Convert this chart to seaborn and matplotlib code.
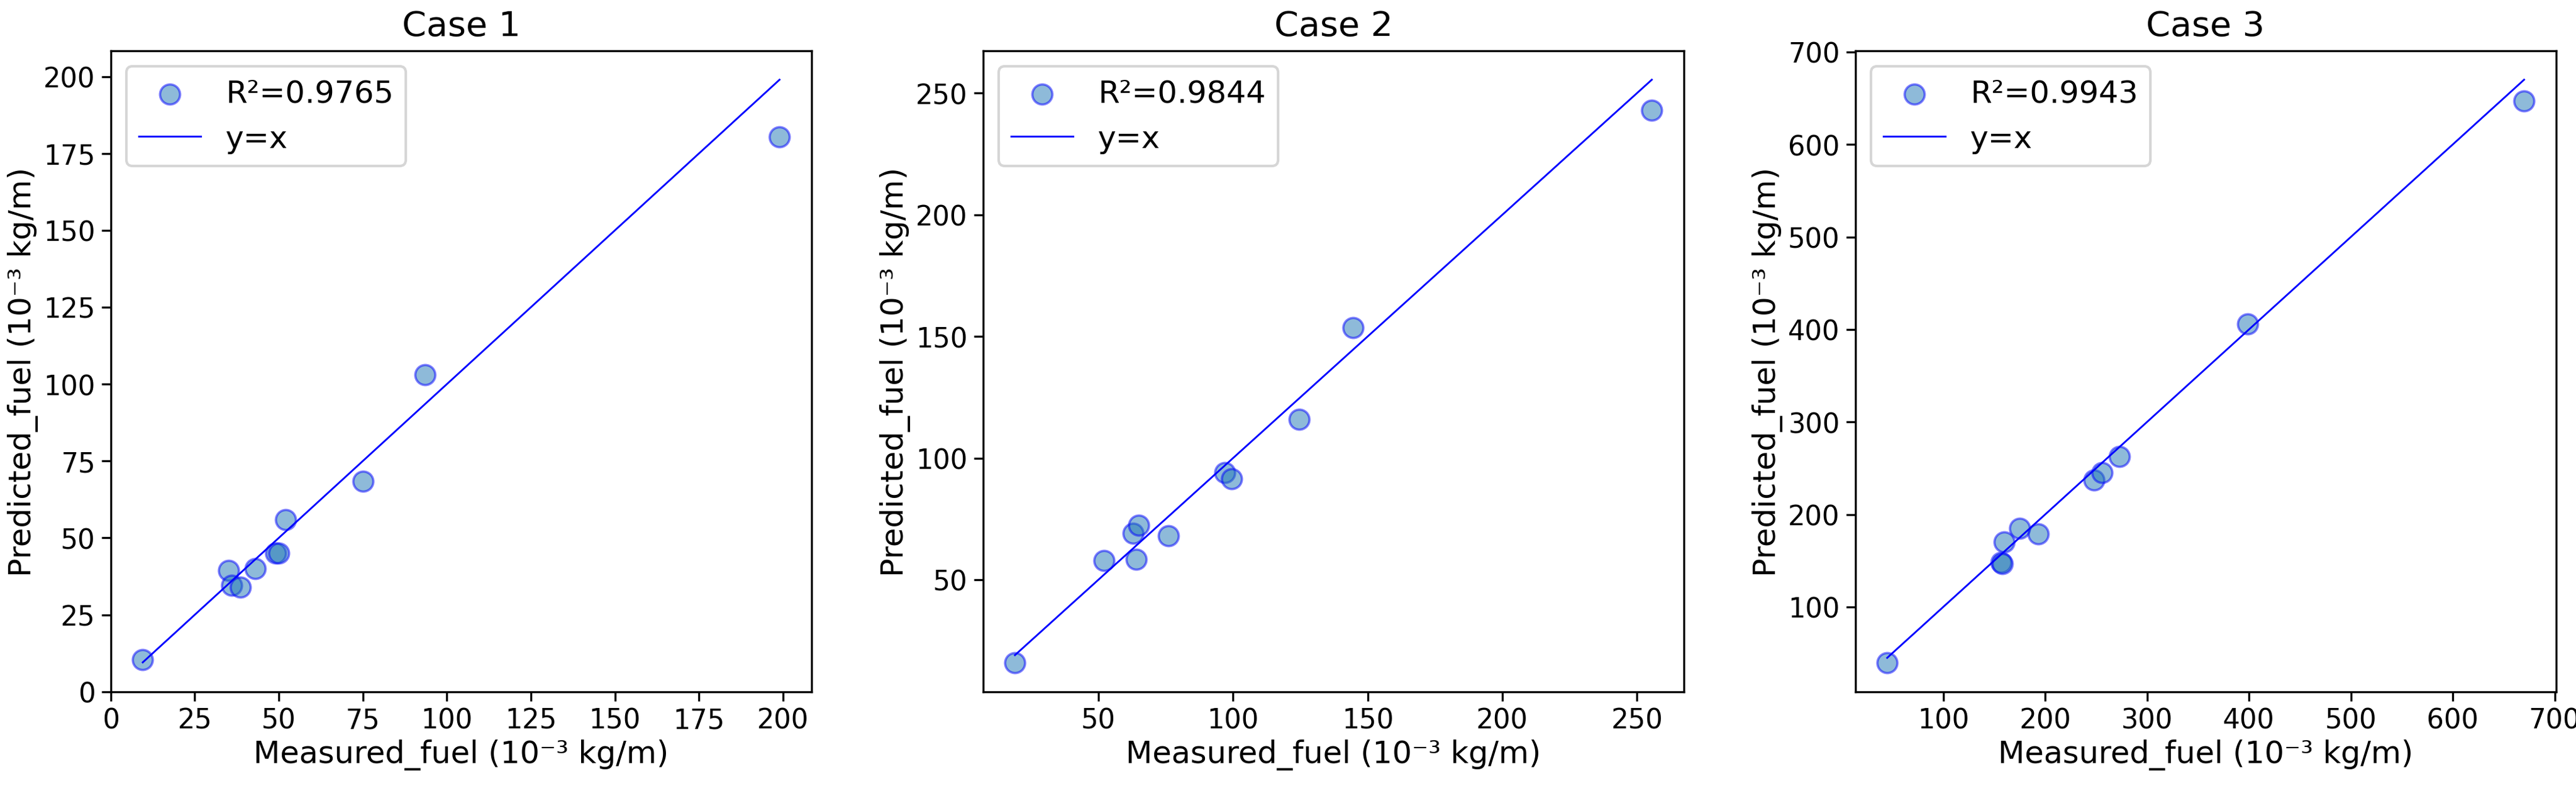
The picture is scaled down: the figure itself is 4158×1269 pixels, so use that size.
import numpy as np
import pandas as pd
import seaborn as sns
import matplotlib.pyplot as plt

titles = ['Case 1', 'Case 2', 'Case 3']
r2 = [0.9765, 0.9844, 0.9943]

measured_1 = [9.5, 35, 36, 38.5, 43, 49, 50, 52, 75, 93.5, 199]
predicted_1 = [10.3, 39.5, 34.5, 34, 40, 45, 45, 56, 68.5, 103, 180.5]
measured_2 = [19, 52, 63, 64, 65, 76, 97, 99.5, 124.5, 144.5, 255.5]
predicted_2 = [16, 58, 69, 58.5, 72.5, 68, 94, 91.5, 116, 153.5, 243]
measured_3 = [45, 157, 158, 160, 175, 193, 248, 256, 273, 399, 670]
predicted_3 = [40, 148, 147, 170, 185, 179, 237, 245, 263, 406, 647]

cases = [(measured_1, predicted_1), (measured_2, predicted_2), (measured_3, predicted_3)]

plt.rcParams['font.family'] = ['DejaVu Sans']
fig, axes = plt.subplots(1, 3, figsize=(13.863, 4.233), dpi=300)
plt.subplots_adjust(left=0.043, right=0.992, top=0.935, bottom=0.12, wspace=0.245)

for ax, title, r, (m, p) in zip(axes, titles, r2, cases):
    df = pd.DataFrame({'m': m, 'p': p})
    sns.scatterplot(data=df, x='m', y='p', ax=ax, s=60, color='#1f77b4', alpha=0.5,
                    edgecolor='blue', linewidth=0.9, label=f'R\u00b2={r:.4f}')
    lo, hi = min(m), max(m)
    sns.lineplot(x=[lo, hi], y=[lo, hi], ax=ax, color='blue', linewidth=0.7, label='y=x')
    ax.set_title(title, fontsize=13.5)
    ax.set_xlabel('Measured_fuel (10\u207b\u00b3 kg/m)', fontsize=12, labelpad=2)
    ax.set_ylabel('Predicted_fuel (10\u207b\u00b3 kg/m)', fontsize=12, labelpad=2)
    ax.tick_params(labelsize=10.5, pad=2.5)
    ax.legend(loc='upper left', fontsize=12)

axes[0].set_xticks(np.arange(0, 201, 25))
axes[0].set_yticks(np.arange(0, 201, 25))

plt.savefig('out.png', dpi=300)
